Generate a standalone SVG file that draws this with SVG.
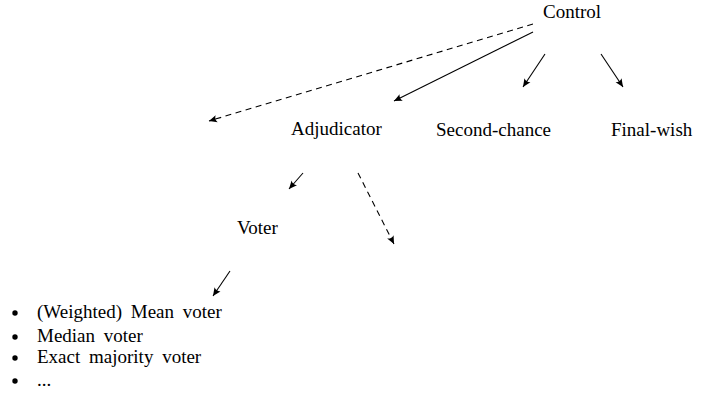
<svg xmlns="http://www.w3.org/2000/svg" width="715" height="396" viewBox="0 0 715 396">
<defs>
<style>
.t{font-size:19px;fill:#000}
.e{stroke:#000;stroke-width:1.1;fill:none;marker-end:url(#ah)}
.d{stroke-dasharray:6 4.5}
.li{word-spacing:4px}
</style>
<marker id="ah" markerUnits="userSpaceOnUse" viewBox="-9 -5 10 10" refX="0" refY="0" markerWidth="10" markerHeight="10" orient="auto">
<path d="M0,0 L-8,-3.6 Q-5.5,0 -8,3.6 Z" fill="#000"/>
</marker>
</defs>
<rect width="715" height="396" fill="#fff"/>
<g id="connectors">
<line class="e d" x1="533" y1="24" x2="209" y2="121"/>
<line class="e" x1="533" y1="32" x2="394" y2="101"/>
<line class="e" x1="545" y1="54" x2="523" y2="87"/>
<line class="e" x1="601" y1="54" x2="623" y2="87"/>
<line class="e" x1="303" y1="173" x2="289" y2="189"/>
<line class="e d" x1="358" y1="173" x2="394" y2="244"/>
<line class="e" x1="230" y1="271" x2="213" y2="296"/>
</g>
<g font-family="Liberation Serif, DejaVu Serif, serif">
<g id="control"><text class="t" x="543" y="18">Control</text></g>
<g id="adjudicator"><text class="t" x="291" y="135">Adjudicator</text></g>
<g id="second-chance"><text class="t" x="436" y="136">Second-chance</text></g>
<g id="final-wish"><text class="t" x="611" y="136">Final-wish</text></g>
<g id="voter"><text class="t" x="237" y="234">Voter</text></g>
<g id="voter-list">
<circle cx="15" cy="313" r="2.7"/>
<text class="t li" x="37" y="318">(Weighted) Mean voter</text>
<circle cx="15" cy="337" r="2.7"/>
<text class="t li" x="37" y="342">Median voter</text>
<circle cx="15" cy="358" r="2.7"/>
<text class="t li" x="37" y="363">Exact majority voter</text>
<circle cx="15" cy="381" r="2.7"/>
<text class="t" x="37" y="386">...</text>
</g>
</g>
</svg>
